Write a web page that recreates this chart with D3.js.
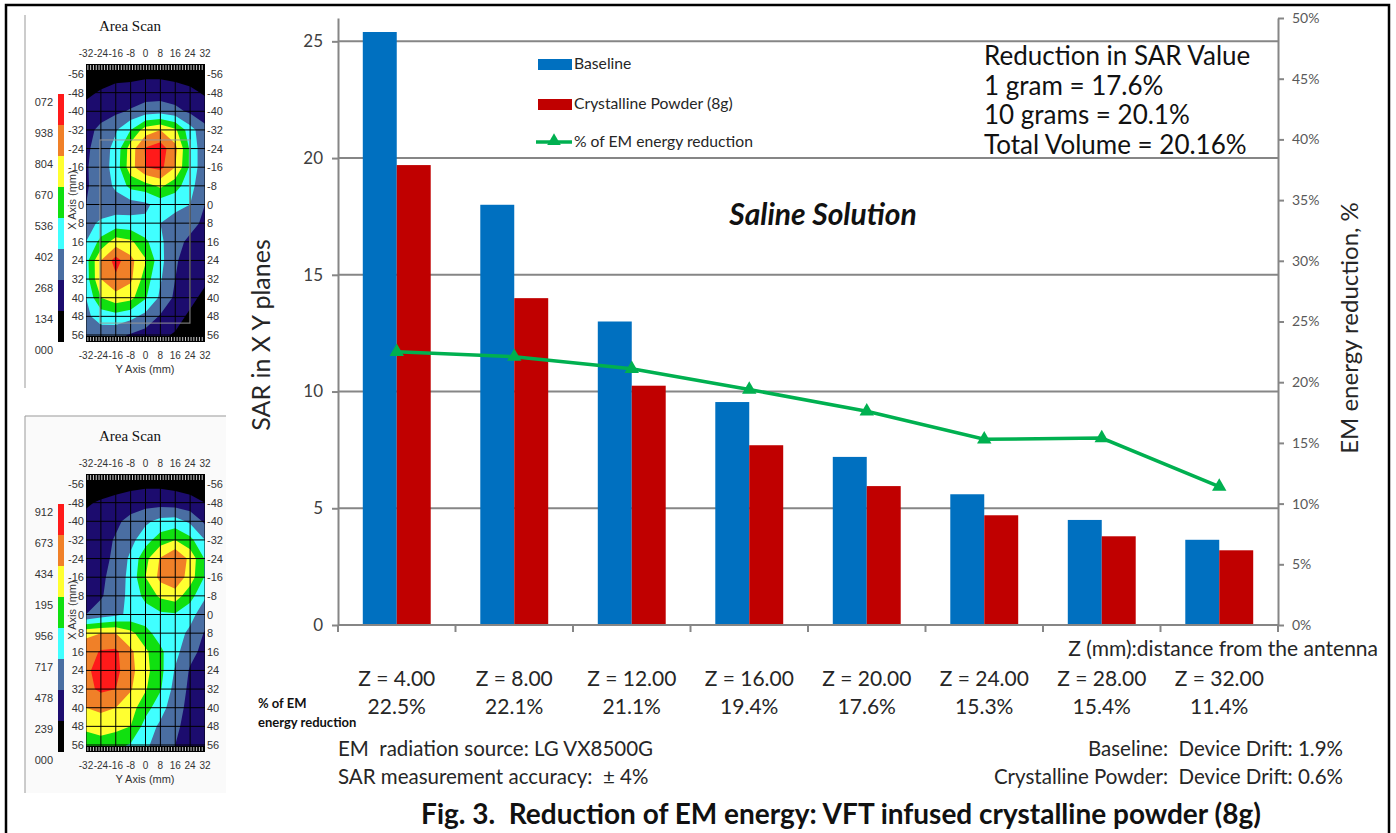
<!DOCTYPE html>
<html>
<head>
<meta charset="utf-8">
<script src="https://cdn.jsdelivr.net/npm/d3@7"></script>
<style>
  body { margin: 0; background: #fff; }
  svg { display: block; font-family: Lato, "Open Sans", sans-serif; }
</style>
</head>
<body>
<svg width="1396" height="833"></svg>
<script>
// ---- main chart data ----
const zLabels = ["Z = 4.00", "Z = 8.00", "Z = 12.00", "Z = 16.00", "Z = 20.00", "Z = 24.00", "Z = 28.00", "Z = 32.00"];
const baseline = [25.4, 18.0, 13.0, 9.55, 7.2, 5.6, 4.5, 3.65];
const crystalline = [19.7, 14.0, 10.25, 7.7, 5.95, 4.7, 3.8, 3.2];
const reduction = [22.5, 22.1, 21.1, 19.4, 17.6, 15.3, 15.4, 11.4];
const sarTicks = [0, 5, 10, 15, 20, 25];
const pctTicks = [0, 5, 10, 15, 20, 25, 30, 35, 40, 45, 50];
const seriesNames = ["Baseline", "Crystalline Powder (8g)", "% of EM energy reduction"];
const summaryLines = ["Reduction in SAR Value", "1 gram = 17.6%", "10 grams = 20.1%", "Total Volume = 20.16%"];

// ---- area scan data (colour level 0..8 at each grid point, rows y=-56..56, cols x=-32..32) ----
const scanXTicks = [-32, -24, -16, -8, 0, 8, 16, 24, 32];
const scanYTicks = [-56, -48, -40, -32, -24, -16, -8, 0, 8, 16, 24, 32, 40, 48, 56];
const scanColors = ["#1c0c6e", "#4a6ea2", "#40ffff", "#10e010", "#ffff30", "#f08028", "#ff1a1a"];
const scan1Legend = ["072", "938", "804", "670", "536", "402", "268", "134", "000"];
const scan2Legend = ["912", "673", "434", "195", "956", "717", "478", "239", "000"];
const scan1 = [
  [0.4, 0.5, 0.6, 0.7, 0.8, 0.8, 0.7, 0.6, 0.4],
  [0.8, 1.1, 1.4, 1.4, 1.5, 1.5, 1.4, 1.2, 0.9],
  [1.3, 1.5, 1.8, 2.1, 2.5, 2.6, 2.3, 1.8, 1.4],
  [1.6, 2.3, 2.9, 4.0, 5.5, 6.0, 5.2, 3.4, 2.3],
  [1.8, 2.5, 3.3, 5.5, 7.1, 7.5, 6.3, 3.8, 2.2],
  [1.9, 2.5, 3.4, 5.6, 7.0, 7.3, 6.0, 3.8, 2.2],
  [1.9, 2.4, 3.2, 4.3, 4.6, 5.2, 4.4, 3.4, 2.1],
  [2.0, 2.3, 2.5, 2.6, 2.8, 3.4, 3.3, 3.0, 2.0],
  [2.6, 3.2, 3.4, 3.3, 3.2, 3.0, 2.6, 2.3, 1.8],
  [3.0, 4.3, 5.5, 5.2, 4.2, 3.2, 2.3, 1.8, 1.5],
  [3.6, 6.0, 7.4, 6.3, 5.1, 3.3, 2.1, 1.6, 1.4],
  [3.5, 6.0, 6.8, 6.2, 4.5, 3.1, 2.0, 1.5, 1.2],
  [3.0, 5.0, 5.6, 5.3, 4.1, 2.8, 1.8, 1.3, 0.7],
  [2.8, 3.4, 3.6, 3.3, 2.7, 1.9, 1.4, 0.8, 0.5],
  [2.2, 2.5, 2.3, 1.9, 1.6, 1.2, 0.9, 0.6, 0.4]
];
const scan2 = [
  [0.4, 0.5, 0.6, 0.7, 0.8, 0.8, 0.7, 0.6, 0.4],
  [0.9, 1.1, 1.3, 1.5, 1.6, 1.6, 1.5, 1.3, 1.0],
  [1.2, 1.5, 1.8, 2.3, 2.8, 3.3, 3.4, 2.8, 1.8],
  [1.3, 1.6, 2.1, 2.7, 3.6, 4.5, 5.0, 4.3, 3.0],
  [1.3, 1.7, 2.2, 3.2, 4.7, 6.1, 7.05, 5.7, 3.9],
  [1.3, 1.8, 2.4, 3.3, 5.0, 6.3, 6.8, 5.5, 3.9],
  [1.4, 1.9, 2.5, 3.3, 4.3, 5.2, 5.5, 4.4, 3.1],
  [2.0, 2.4, 2.8, 3.2, 3.5, 3.8, 3.9, 3.3, 2.5],
  [5.8, 6.0, 6.0, 5.3, 4.3, 3.6, 3.4, 2.8, 1.9],
  [6.5, 7.1, 7.2, 6.2, 5.2, 4.2, 3.3, 2.3, 1.7],
  [6.8, 7.4, 7.3, 6.3, 5.3, 4.3, 2.9, 1.9, 1.6],
  [6.7, 7.2, 7.0, 6.1, 5.1, 4.1, 2.6, 1.8, 1.5],
  [6.0, 6.2, 6.0, 5.4, 4.4, 3.4, 2.4, 1.7, 1.4],
  [5.3, 5.5, 5.3, 5.0, 3.6, 2.8, 2.2, 1.6, 1.2],
  [4.2, 4.5, 4.3, 3.9, 3.2, 2.5, 2.0, 1.5, 1.0]
];

const svg = d3.select("svg");
const axisGray = "#868686";
const textDark = "#262626";

// ---------- main chart ----------
const x = d3.scaleBand().domain(zLabels).range([338, 1278]);
const x1 = d3.scaleBand().domain(seriesNames.slice(0, 2)).range([0, x.bandwidth()]).paddingOuter(0.73);
const y = d3.scaleLinear().domain([0, 26]).range([625, 18]);
const y2 = d3.scaleLinear().domain([0, 50]).range([625, 18]);
const barColor = d3.scaleOrdinal().domain(seriesNames.slice(0, 2)).range(["#0070c0", "#c00000"]);

// gridlines
svg.append("g")
  .selectAll("line")
  .data(sarTicks.filter(d => d > 0))
  .enter().append("line")
  .attr("x1", 338).attr("x2", 1278)
  .attr("y1", d => y(d)).attr("y2", d => y(d))
  .attr("stroke", axisGray).attr("stroke-width", 2);

// bars
const groups = svg.append("g")
  .selectAll("g")
  .data(zLabels.map((z, i) => ({ z, values: [baseline[i], crystalline[i]] })))
  .enter().append("g")
  .attr("transform", d => `translate(${x(d.z)},0)`);

groups.selectAll("rect")
  .data(d => d.values.map((v, j) => ({ key: seriesNames[j], v })))
  .enter().append("rect")
  .attr("x", d => x1(d.key))
  .attr("width", x1.bandwidth())
  .attr("y", d => y(d.v))
  .attr("height", d => y(0) - y(d.v))
  .attr("fill", d => barColor(d.key));

// left axis
const leftAxis = svg.append("g")
  .attr("transform", "translate(338,0)")
  .call(d3.axisLeft(y).tickValues(sarTicks).tickSize(6).tickSizeOuter(0).tickPadding(9));
leftAxis.select(".domain").attr("stroke", axisGray).attr("stroke-width", 2);
leftAxis.selectAll(".tick line").attr("stroke", axisGray).attr("stroke-width", 2);
leftAxis.selectAll(".tick text").attr("font-family", "Lato").attr("font-size", 17).attr("fill", "#404040");

// right axis
const rightAxis = svg.append("g")
  .attr("transform", "translate(1278,0)")
  .call(d3.axisRight(y2).tickValues(pctTicks).tickFormat(d => d + "%").tickSize(6).tickSizeOuter(0).tickPadding(8));
rightAxis.select(".domain").attr("stroke", axisGray).attr("stroke-width", 2);
rightAxis.selectAll(".tick line").attr("stroke", axisGray).attr("stroke-width", 2);
rightAxis.selectAll(".tick text").attr("font-family", "Lato").attr("font-size", 14).attr("fill", "#595959");

// bottom axis (ticks at category boundaries)
svg.append("line")
  .attr("x1", 338).attr("x2", 1278).attr("y1", y(0)).attr("y2", y(0))
  .attr("stroke", axisGray).attr("stroke-width", 2);
svg.append("g")
  .selectAll("line")
  .data(zLabels.map(d => x(d)).concat([x.range()[1]]))
  .enter().append("line")
  .attr("x1", d => d).attr("x2", d => d)
  .attr("y1", y(0)).attr("y2", y(0) + 7)
  .attr("stroke", axisGray).attr("stroke-width", 2);

// reduction line
const lineGen = d3.line()
  .x((d, i) => x(zLabels[i]) + x.bandwidth() / 2)
  .y(d => y2(d));
svg.append("path")
  .datum(reduction)
  .attr("d", lineGen)
  .attr("fill", "none")
  .attr("stroke", "#00b050")
  .attr("stroke-width", 3.5);
svg.append("g")
  .selectAll("path")
  .data(reduction)
  .enter().append("path")
  .attr("d", d3.symbol().type(d3.symbolTriangle).size(90))
  .attr("transform", (d, i) => `translate(${x(zLabels[i]) + x.bandwidth() / 2},${y2(d)})`)
  .attr("fill", "#00b050");

// legend
const legend = svg.append("g").attr("transform", "translate(538,0)");
const legendY = [64, 104, 142];
seriesNames.forEach((name, i) => {
  if (i < 2) {
    legend.append("rect").attr("x", 0).attr("y", legendY[i] - 5).attr("width", 34).attr("height", 11).attr("fill", barColor(name));
  } else {
    legend.append("line").attr("x1", -2).attr("x2", 34).attr("y1", legendY[i]).attr("y2", legendY[i])
      .attr("stroke", "#00b050").attr("stroke-width", 3.5);
    legend.append("path").attr("d", d3.symbol().type(d3.symbolTriangle).size(80))
      .attr("transform", `translate(16,${legendY[i] - 1})`).attr("fill", "#00b050");
  }
  legend.append("text").attr("x", 36).attr("y", legendY[i] + 5)
    .attr("font-size", 15.7).attr("fill", textDark).text(name);
});

// summary block
svg.append("g")
  .selectAll("text")
  .data(summaryLines)
  .enter().append("text")
  .attr("x", 984)
  .attr("y", (d, i) => 65 + i * 29.7)
  .attr("font-size", 26)
  .attr("fill", "#111")
  .text(d => d);

svg.append("text")
  .attr("x", 823).attr("y", 225)
  .attr("text-anchor", "middle")
  .attr("font-size", 30).attr("font-weight", "bold").attr("font-style", "italic")
  .attr("fill", "#111")
  .text("Saline Solution");

// axis titles
svg.append("text")
  .attr("transform", "translate(270,335) rotate(-90)")
  .attr("text-anchor", "middle").attr("font-size", 25).attr("fill", textDark)
  .text("SAR in X Y planes");
svg.append("text")
  .attr("transform", "translate(1358,328) rotate(-90)")
  .attr("text-anchor", "middle").attr("font-size", 24).attr("fill", textDark)
  .text("EM energy reduction, %");
svg.append("text")
  .attr("x", 1378).attr("y", 656)
  .attr("text-anchor", "end").attr("font-size", 21).attr("fill", textDark)
  .text("Z (mm):distance from the antenna");

// category labels + reduction values
svg.append("g")
  .selectAll("text")
  .data(zLabels)
  .enter().append("text")
  .attr("x", d => x(d) + x.bandwidth() / 2)
  .attr("y", 686)
  .attr("text-anchor", "middle").attr("font-size", 21).attr("fill", textDark)
  .text(d => d);
svg.append("g")
  .selectAll("text")
  .data(reduction)
  .enter().append("text")
  .attr("x", (d, i) => x(zLabels[i]) + x.bandwidth() / 2)
  .attr("y", 714)
  .attr("text-anchor", "middle").attr("font-size", 21).attr("fill", textDark)
  .text(d => d.toFixed(1) + "%");
svg.append("text").attr("x", 258).attr("y", 708)
  .attr("font-size", 13).attr("font-weight", "bold").attr("fill", "#111").text("% of EM");
svg.append("text").attr("x", 258).attr("y", 727)
  .attr("font-size", 13).attr("font-weight", "bold").attr("fill", "#111").text("energy reduction");

// notes
const notes = svg.append("g").attr("font-size", 20.5).attr("fill", textDark);
notes.append("text").attr("x", 338).attr("y", 756).text("EM\u00a0 radiation source: LG VX8500G");
notes.append("text").attr("x", 338).attr("y", 784).text("SAR measurement accuracy:\u00a0 \u00b1 4%");
notes.append("text").attr("x", 1343).attr("y", 756).attr("text-anchor", "end").text("Baseline:\u00a0 Device Drift: 1.9%");
notes.append("text").attr("x", 1343).attr("y", 784).attr("text-anchor", "end").text("Crystalline Powder:\u00a0 Device Drift: 0.6%");

svg.append("text")
  .attr("x", 841).attr("y", 824)
  .attr("text-anchor", "middle").attr("font-size", 28).attr("font-weight", "bold").attr("fill", "#111")
  .text("Fig. 3.\u00a0 Reduction of EM energy: VFT infused crystalline powder (8g)");

// ---------- area scans ----------
function drawScan(grid, legendLabels, off, id, shaded) {
  const g = svg.append("g").attr("font-family", "Liberation Sans, Arial, sans-serif");
  const sx = d3.scaleLinear().domain([-32, 32]).range([86, 205]);
  const sy = d3.scaleLinear().domain([-56, 56]).range([74 + off, 335 + off]);
  const top = 64 + off, bottom = 342 + off;

  if (shaded) {
    g.append("rect").attr("x", 25).attr("y", 416).attr("width", 201).attr("height", 377).attr("fill", "#fafafa");
    g.append("line").attr("x1", 25).attr("x2", 226).attr("y1", 416).attr("y2", 416).attr("stroke", "#999");
    g.append("line").attr("x1", 25).attr("x2", 25).attr("y1", 416).attr("y2", 793).attr("stroke", "#999");
  } else {
    g.append("line").attr("x1", 25).attr("x2", 25).attr("y1", 15).attr("y2", 388).attr("stroke", "#999");
  }

  g.append("text").attr("x", 130).attr("y", 31 + off).attr("text-anchor", "middle")
    .attr("font-family", "Liberation Serif, serif").attr("font-size", 15).attr("fill", "#111").text("Area Scan");

  svg.append("clipPath").attr("id", id)
    .append("rect").attr("x", sx(-32)).attr("y", top).attr("width", sx(32) - sx(-32)).attr("height", bottom - top);

  const plot = g.append("g").attr("clip-path", `url(#${id})`);
  plot.append("rect").attr("x", sx(-32)).attr("y", top).attr("width", sx(32) - sx(-32)).attr("height", bottom - top).attr("fill", "#000");

  const nx = grid[0].length, ny = grid.length;
  const contours = d3.contours().size([nx, ny]).thresholds(d3.range(1, 8))(grid.flat());
  const proj = d3.geoTransform({
    point(u, v) { this.stream.point(sx(-32 + (u - 0.5) * 8), sy(-56 + (v - 0.5) * 8)); }
  });
  plot.selectAll("path.band")
    .data(contours)
    .enter().append("path")
    .attr("class", "band")
    .attr("d", d3.geoPath(proj))
    .attr("fill", (d, i) => scanColors[i]);

  // grid
  plot.selectAll("line.gx").data(scanXTicks).enter().append("line").attr("class", "gx")
    .attr("x1", d => sx(d)).attr("x2", d => sx(d)).attr("y1", top).attr("y2", bottom)
    .attr("stroke", "#000").attr("stroke-width", 1);
  plot.selectAll("line.gy").data(scanYTicks).enter().append("line").attr("class", "gy")
    .attr("x1", sx(-32)).attr("x2", sx(32)).attr("y1", d => sy(d)).attr("y2", d => sy(d))
    .attr("stroke", "#000").attr("stroke-width", 1);

  if (!shaded) {
    plot.append("rect").attr("x", sx(-24.5)).attr("y", sy(-27.7)).attr("width", sx(23.9) - sx(-24.5))
      .attr("height", sy(50.9) - sy(-27.7)).attr("fill", "none").attr("stroke", "#999").attr("stroke-width", 1.2).attr("opacity", 0.8);
  }

  // hatch bands
  [[top, top + 7], [bottom - 6, bottom]].forEach(([a, b]) => {
    plot.append("rect").attr("x", sx(-32)).attr("y", a).attr("width", sx(32) - sx(-32)).attr("height", b - a).attr("fill", "#000");
    plot.selectAll(null).data(d3.range(-31, 32, 1.5)).enter().append("line")
      .attr("x1", d => sx(d)).attr("x2", d => sx(d)).attr("y1", a + 1).attr("y2", b - 1)
      .attr("stroke", "#fff").attr("stroke-width", 0.8);
  });

  // tick labels
  const lab = g.append("g").attr("font-size", 10).attr("fill", "#333");
  lab.selectAll(null).data(scanXTicks).enter().append("text")
    .attr("x", d => sx(d)).attr("y", 57 + off).attr("text-anchor", "middle").text(d => d);
  lab.selectAll(null).data(scanXTicks).enter().append("text")
    .attr("x", d => sx(d)).attr("y", 359 + off).attr("text-anchor", "middle").text(d => d);
  lab.selectAll(null).data(scanYTicks).enter().append("text")
    .attr("x", 84).attr("y", d => sy(d) + 4).attr("text-anchor", "end").attr("font-size", 11).text(d => d);
  lab.selectAll(null).data(scanYTicks).enter().append("text")
    .attr("x", 207).attr("y", d => sy(d) + 4).attr("font-size", 11).text(d => d);
  g.append("text").attr("x", 145).attr("y", 373 + off).attr("text-anchor", "middle")
    .attr("font-size", 11).attr("fill", "#333").text("Y Axis (mm)");
  g.append("text").attr("transform", `translate(76,${200 + off}) rotate(-90)`).attr("text-anchor", "middle")
    .attr("font-size", 11).attr("fill", "#333").text("X Axis (mm)");

  // colour bar
  const cb = d3.scaleLinear().domain([0, 8]).range([342 + off, 94 + off]);
  g.selectAll(null).data(["#000"].concat(scanColors)).enter().append("rect")
    .attr("x", 58).attr("width", 6)
    .attr("y", (d, i) => cb(i + 1)).attr("height", (d, i) => cb(i) - cb(i + 1))
    .attr("fill", d => d);
  g.selectAll(null).data(legendLabels).enter().append("text")
    .attr("x", 53).attr("y", (d, i) => cb(8 - i) + 12)
    .attr("text-anchor", "end").attr("font-size", 11).attr("fill", "#333").text(d => d);
}

drawScan(scan1, scan1Legend, 0, "clip1", false);
drawScan(scan2, scan2Legend, 410, "clip2", true);

// figure frame
svg.append("rect").attr("x", 6).attr("y", 5).attr("width", 1383).attr("height", 840)
  .attr("fill", "none").attr("stroke", "#000").attr("stroke-width", 2.5);
</script>
</body>
</html>
